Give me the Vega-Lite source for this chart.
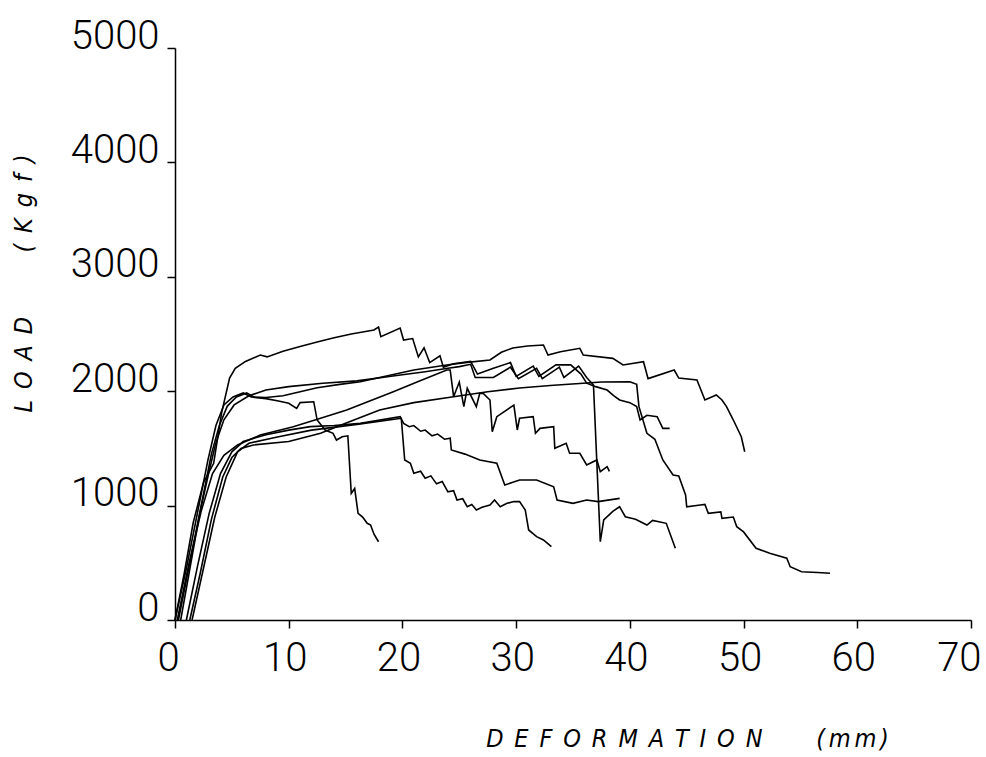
{
"$schema": "https://vega.github.io/schema/vega-lite/v6.json",
"width": 796, "height": 572,
"autosize": {"type": "none"},
"padding": {"left": 175, "top": 48, "right": 15, "bottom": 137},
"background": "white",
"view": {"stroke": null},
"data": {"values": [
{"s":"A","x":0,"y":0},{"s":"A","x":0.8,"y":400},{"s":"A","x":1.6,"y":850},{"s":"A","x":2.5,"y":1200},{"s":"A","x":3.4,"y":1370},{"s":"A","x":4.1,"y":1810},{"s":"A","x":4.8,"y":2115},{"s":"A","x":5.3,"y":2200},{"s":"A","x":6.2,"y":2260},{"s":"A","x":7.5,"y":2316},{"s":"A","x":8.1,"y":2300},{"s":"A","x":9.5,"y":2350},{"s":"A","x":11,"y":2390},{"s":"A","x":12.5,"y":2430},{"s":"A","x":13.9,"y":2465},{"s":"A","x":15.5,"y":2500},{"s":"A","x":17.5,"y":2535},{"s":"A","x":17.9,"y":2561},{"s":"A","x":18.1,"y":2477},{"s":"A","x":19.8,"y":2552},{"s":"A","x":20.1,"y":2447},{"s":"A","x":20.9,"y":2460},{"s":"A","x":21.4,"y":2300},{"s":"A","x":21.9,"y":2380},{"s":"A","x":22.4,"y":2250},{"s":"A","x":23.3,"y":2310},{"s":"A","x":23.6,"y":2210},{"s":"A","x":24.5,"y":2240},{"s":"A","x":26,"y":2260},{"s":"A","x":26.6,"y":2150},{"s":"A","x":28,"y":2200},{"s":"A","x":29.5,"y":2250},{"s":"A","x":30,"y":2130},{"s":"A","x":31.5,"y":2220},{"s":"A","x":32,"y":2130},{"s":"A","x":33.5,"y":2230},{"s":"A","x":34.8,"y":2230},{"s":"A","x":35.7,"y":2150},{"s":"A","x":36.2,"y":2070},{"s":"A","x":37,"y":2040},{"s":"A","x":38,"y":2010},{"s":"A","x":38.6,"y":1960},{"s":"A","x":39.1,"y":1923},{"s":"A","x":40,"y":1900},{"s":"A","x":40.6,"y":1865},{"s":"A","x":40.9,"y":1748},{"s":"A","x":41.5,"y":1790},{"s":"A","x":42.4,"y":1777},{"s":"A","x":42.9,"y":1675},{"s":"A","x":43.5,"y":1675},
{"s":"J","x":0,"y":0},{"s":"J","x":1,"y":450},{"s":"J","x":2,"y":950},{"s":"J","x":2.9,"y":1400},{"s":"J","x":3.6,"y":1700},{"s":"J","x":4.3,"y":1880},{"s":"J","x":5.1,"y":1950},{"s":"J","x":6,"y":1985},{"s":"J","x":6.7,"y":1950},{"s":"J","x":8,"y":1945},{"s":"J","x":9.5,"y":1960},{"s":"J","x":11,"y":1995},{"s":"J","x":12.5,"y":2030},{"s":"J","x":14.5,"y":2060},{"s":"J","x":16.3,"y":2083},{"s":"J","x":18.5,"y":2130},{"s":"J","x":21,"y":2185},{"s":"J","x":23.9,"y":2229},{"s":"J","x":25.5,"y":2250},{"s":"J","x":27.7,"y":2273},{"s":"J","x":28.7,"y":2340},{"s":"J","x":29.7,"y":2378},{"s":"J","x":31,"y":2395},{"s":"J","x":32.4,"y":2404},{"s":"J","x":32.8,"y":2316},{"s":"J","x":33.9,"y":2345},{"s":"J","x":35.6,"y":2375},{"s":"J","x":35.9,"y":2316},{"s":"J","x":38.5,"y":2287},{"s":"J","x":39.4,"y":2229},{"s":"J","x":41.2,"y":2258},{"s":"J","x":41.6,"y":2110},{"s":"J","x":43.9,"y":2185},{"s":"J","x":44.3,"y":2115},{"s":"J","x":45.9,"y":2098},{"s":"J","x":46.6,"y":1923},{"s":"J","x":47.6,"y":1967},{"s":"J","x":48.1,"y":1923},{"s":"J","x":48.5,"y":1865},{"s":"J","x":49.1,"y":1748},{"s":"J","x":49.8,"y":1602},{"s":"J","x":50.1,"y":1471},
{"s":"L","x":0.3,"y":0},{"s":"L","x":1.2,"y":450},{"s":"L","x":2.1,"y":900},{"s":"L","x":3,"y":1300},{"s":"L","x":3.6,"y":1550},{"s":"L","x":4.3,"y":1750},{"s":"L","x":5.2,"y":1880},{"s":"L","x":6.5,"y":1960},{"s":"L","x":8,"y":2010},{"s":"L","x":10,"y":2040},{"s":"L","x":13,"y":2070},{"s":"L","x":16,"y":2090},{"s":"L","x":19,"y":2130},{"s":"L","x":22,"y":2170},{"s":"L","x":24,"y":2200},{"s":"L","x":25,"y":2215},{"s":"L","x":26,"y":2235},{"s":"L","x":26.4,"y":2120},{"s":"L","x":28,"y":2120},{"s":"L","x":29.5,"y":2210},{"s":"L","x":30.2,"y":2110},{"s":"L","x":31.8,"y":2200},{"s":"L","x":32.3,"y":2110},{"s":"L","x":33.8,"y":2210},{"s":"L","x":34.2,"y":2120},{"s":"L","x":35.5,"y":2220},{"s":"L","x":36.2,"y":2120},{"s":"L","x":36.8,"y":2054},{"s":"L","x":37.4,"y":684},{"s":"L","x":37.7,"y":874},{"s":"L","x":38.5,"y":950},{"s":"L","x":39.1,"y":990},{"s":"L","x":39.6,"y":903},{"s":"L","x":40.5,"y":880},{"s":"L","x":41.5,"y":830},{"s":"L","x":42,"y":870},{"s":"L","x":43.2,"y":845},{"s":"L","x":44,"y":627},
{"s":"M","x":0.5,"y":0},{"s":"M","x":1.4,"y":500},{"s":"M","x":2.3,"y":1000},{"s":"M","x":3.2,"y":1450},{"s":"M","x":3.9,"y":1700},{"s":"M","x":4.6,"y":1870},{"s":"M","x":5.4,"y":1950},{"s":"M","x":6.3,"y":1985},{"s":"M","x":7,"y":1945},{"s":"M","x":8,"y":1935},{"s":"M","x":9.1,"y":1915},{"s":"M","x":10,"y":1894},{"s":"M","x":10.7,"y":1850},{"s":"M","x":11,"y":1900},{"s":"M","x":12.2,"y":1908},{"s":"M","x":12.5,"y":1748},{"s":"M","x":13.2,"y":1660},{"s":"M","x":13.9,"y":1632},{"s":"M","x":14.2,"y":1573},{"s":"M","x":14.7,"y":1602},{"s":"M","x":15.2,"y":1610},{"s":"M","x":15.5,"y":1107},{"s":"M","x":15.8,"y":1150},{"s":"M","x":16.1,"y":933},{"s":"M","x":16.5,"y":900},{"s":"M","x":16.9,"y":845},{"s":"M","x":17.2,"y":830},{"s":"M","x":17.5,"y":750},{"s":"M","x":17.9,"y":684},
{"s":"G","x":0.2,"y":0},{"s":"G","x":1.2,"y":480},{"s":"G","x":2.3,"y":950},{"s":"G","x":3.3,"y":1280},{"s":"G","x":4.3,"y":1440},{"s":"G","x":5.5,"y":1530},{"s":"G","x":7.5,"y":1617},{"s":"G","x":10.4,"y":1690},{"s":"G","x":12.8,"y":1763},{"s":"G","x":15.1,"y":1836},{"s":"G","x":19.2,"y":1996},{"s":"G","x":21.5,"y":2090},{"s":"G","x":23.9,"y":2185},{"s":"G","x":24.2,"y":2185},{"s":"G","x":24.5,"y":1952},{"s":"G","x":25,"y":2080},{"s":"G","x":25.4,"y":1865},{"s":"G","x":25.7,"y":2025},{"s":"G","x":26.5,"y":1865},{"s":"G","x":26.8,"y":1981},{"s":"G","x":27.1,"y":1981},{"s":"G","x":27.7,"y":1923},{"s":"G","x":27.9,"y":1646},{"s":"G","x":28.3,"y":1777},{"s":"G","x":29.8,"y":1879},{"s":"G","x":30.1,"y":1661},{"s":"G","x":30.3,"y":1763},{"s":"G","x":31.5,"y":1777},{"s":"G","x":31.7,"y":1632},{"s":"G","x":32.1,"y":1675},{"s":"G","x":33.3,"y":1690},{"s":"G","x":33.4,"y":1501},{"s":"G","x":34.4,"y":1545},{"s":"G","x":34.7,"y":1457},{"s":"G","x":35.6,"y":1457},{"s":"G","x":36.2,"y":1355},{"s":"G","x":37.1,"y":1399},{"s":"G","x":37.4,"y":1297},{"s":"G","x":38,"y":1340},{"s":"G","x":38.2,"y":1300},
{"s":"E","x":1,"y":0},{"s":"E","x":2,"y":480},{"s":"E","x":3,"y":930},{"s":"E","x":4,"y":1280},{"s":"E","x":5,"y":1470},{"s":"E","x":6,"y":1560},{"s":"E","x":8,"y":1620},{"s":"E","x":10,"y":1660},{"s":"E","x":11.9,"y":1690},{"s":"E","x":14,"y":1700},{"s":"E","x":16.3,"y":1719},{"s":"E","x":18,"y":1748},{"s":"E","x":19.8,"y":1777},{"s":"E","x":20.1,"y":1719},{"s":"E","x":20.6,"y":1690},{"s":"E","x":21,"y":1700},{"s":"E","x":21.6,"y":1650},{"s":"E","x":22,"y":1660},{"s":"E","x":22.6,"y":1610},{"s":"E","x":23.1,"y":1625},{"s":"E","x":23.7,"y":1580},{"s":"E","x":24.2,"y":1590},{"s":"E","x":24.3,"y":1486},{"s":"E","x":25.5,"y":1450},{"s":"E","x":26.8,"y":1399},{"s":"E","x":28.3,"y":1370},{"s":"E","x":29,"y":1180},{"s":"E","x":30.3,"y":1224},{"s":"E","x":31.8,"y":1224},{"s":"E","x":33.3,"y":1165},{"s":"E","x":33.6,"y":1049},{"s":"E","x":35,"y":1020},{"s":"E","x":36.2,"y":1049},{"s":"E","x":37.2,"y":1035},{"s":"E","x":39.1,"y":1063},
{"s":"F","x":1.5,"y":0},{"s":"F","x":2.5,"y":450},{"s":"F","x":3.5,"y":900},{"s":"F","x":4.5,"y":1250},{"s":"F","x":5.5,"y":1470},{"s":"F","x":6.5,"y":1545},{"s":"F","x":9,"y":1600},{"s":"F","x":12,"y":1660},{"s":"F","x":16,"y":1710},{"s":"F","x":18.5,"y":1745},{"s":"F","x":19.9,"y":1763},{"s":"F","x":20.2,"y":1399},{"s":"F","x":20.7,"y":1370},{"s":"F","x":21,"y":1282},{"s":"F","x":21.6,"y":1300},{"s":"F","x":22,"y":1240},{"s":"F","x":22.5,"y":1260},{"s":"F","x":23,"y":1190},{"s":"F","x":23.5,"y":1210},{"s":"F","x":24,"y":1120},{"s":"F","x":24.5,"y":1130},{"s":"F","x":24.8,"y":1049},{"s":"F","x":25.3,"y":1060},{"s":"F","x":25.7,"y":990},{"s":"F","x":26.1,"y":1010},{"s":"F","x":26.5,"y":962},{"s":"F","x":27,"y":985},{"s":"F","x":27.7,"y":1005},{"s":"F","x":28.1,"y":1049},{"s":"F","x":28.6,"y":990},{"s":"F","x":29.2,"y":1020},{"s":"F","x":29.8,"y":1035},{"s":"F","x":30.3,"y":1035},{"s":"F","x":30.8,"y":962},{"s":"F","x":31.1,"y":787},{"s":"F","x":31.8,"y":729},{"s":"F","x":32.4,"y":700},{"s":"F","x":33.1,"y":641},
{"s":"N","x":1.3,"y":0},{"s":"N","x":2.2,"y":400},{"s":"N","x":3.2,"y":880},{"s":"N","x":4.2,"y":1250},{"s":"N","x":5,"y":1420},{"s":"N","x":5.8,"y":1500},{"s":"N","x":6.9,"y":1530},{"s":"N","x":10,"y":1560},{"s":"N","x":12.8,"y":1632},{"s":"N","x":15,"y":1720},{"s":"N","x":18,"y":1836},{"s":"N","x":21,"y":1900},{"s":"N","x":24.5,"y":1952},{"s":"N","x":27.5,"y":1995},{"s":"N","x":30.3,"y":2028},{"s":"N","x":33,"y":2050},{"s":"N","x":35.9,"y":2069},{"s":"N","x":37.5,"y":2080},{"s":"N","x":40,"y":2083},{"s":"N","x":40.6,"y":2060},{"s":"N","x":40.8,"y":1865},{"s":"N","x":41.5,"y":1632},{"s":"N","x":42.2,"y":1580},{"s":"N","x":42.9,"y":1399},{"s":"N","x":43.8,"y":1268},{"s":"N","x":44.3,"y":1260},{"s":"N","x":44.9,"y":1093},{"s":"N","x":45,"y":990},{"s":"N","x":46.2,"y":1005},{"s":"N","x":46.6,"y":1010},{"s":"N","x":46.9,"y":933},{"s":"N","x":48,"y":945},{"s":"N","x":48.1,"y":889},{"s":"N","x":49.1,"y":900},{"s":"N","x":49.4,"y":816},{"s":"N","x":50,"y":770},{"s":"N","x":51.1,"y":627},{"s":"N","x":52.3,"y":583},{"s":"N","x":53.8,"y":540},{"s":"N","x":54.1,"y":466},{"s":"N","x":55.1,"y":422},{"s":"N","x":56.5,"y":415},{"s":"N","x":57.6,"y":408}
]},
"mark": {"type": "line", "color": "black", "strokeWidth": 1.6},
"encoding": {
  "x": {"field": "x", "type": "quantitative",
    "scale": {"domain": [0, 70], "nice": false},
    "axis": {"values": [0,10,20,30,40,50,60,70], "format": "d", "grid": false,
      "title": "D\u00a0\u2006E\u00a0\u2006F\u00a0\u2006O\u00a0\u2006R\u00a0\u2006M\u00a0\u2006A\u00a0\u2006T\u00a0\u2006I\u00a0\u2006O\u00a0\u2006N\u00a0\u00a0\u00a0\u00a0\u00a0\u00a0\u00a0\u2006(\u2006m\u2006m\u2006)",
      "titleX": 512, "titleY": 118, "titleAlign": "center", "titleBaseline": "middle",
      "titleFont": "DejaVu Sans Condensed", "titleFontSize": 25, "titleFontStyle": "italic", "titleFontWeight": "normal", "titleColor": "black",
      "labelFont": "Roboto", "labelFontWeight": 300, "labelFontSize": 40, "labelColor": "black", "labelPadding": 10, "labelOffset": -4, "labelFlush": true, "labelFlushOffset": 14,
      "tickSize": 8, "tickWidth": 1.5, "tickColor": "black", "domainWidth": 1.5, "domainColor": "black"}},
  "y": {"field": "y", "type": "quantitative",
    "scale": {"domain": [0, 5000], "nice": false},
    "axis": {"values": [0,1000,2000,3000,4000,5000], "format": "d", "grid": false,
      "title": "L\u00a0\u2006O\u00a0\u2006A\u00a0\u2006D\u00a0\u00a0\u00a0\u00a0\u00a0\u00a0\u00a0\u00a0\u00a0(\u00a0\u2006K\u00a0\u2006g\u00a0\u2006f\u00a0\u2006)",
      "titleX": -152, "titleY": 235, "titleAngle": -90, "titleAlign": "center", "titleBaseline": "middle",
      "titleFont": "DejaVu Sans Condensed", "titleFontSize": 25, "titleFontStyle": "italic", "titleFontWeight": "normal", "titleColor": "black",
      "labelFont": "Roboto", "labelFontWeight": 300, "labelFontSize": 40, "labelColor": "black", "labelPadding": 8, "labelBaseline": "alphabetic", "labelFlush": false,
      "tickSize": 8, "tickWidth": 1.5, "tickColor": "black", "domainWidth": 1.5, "domainColor": "black"}},
  "detail": {"field": "s"},
  "order": {"value": null}
}
}
